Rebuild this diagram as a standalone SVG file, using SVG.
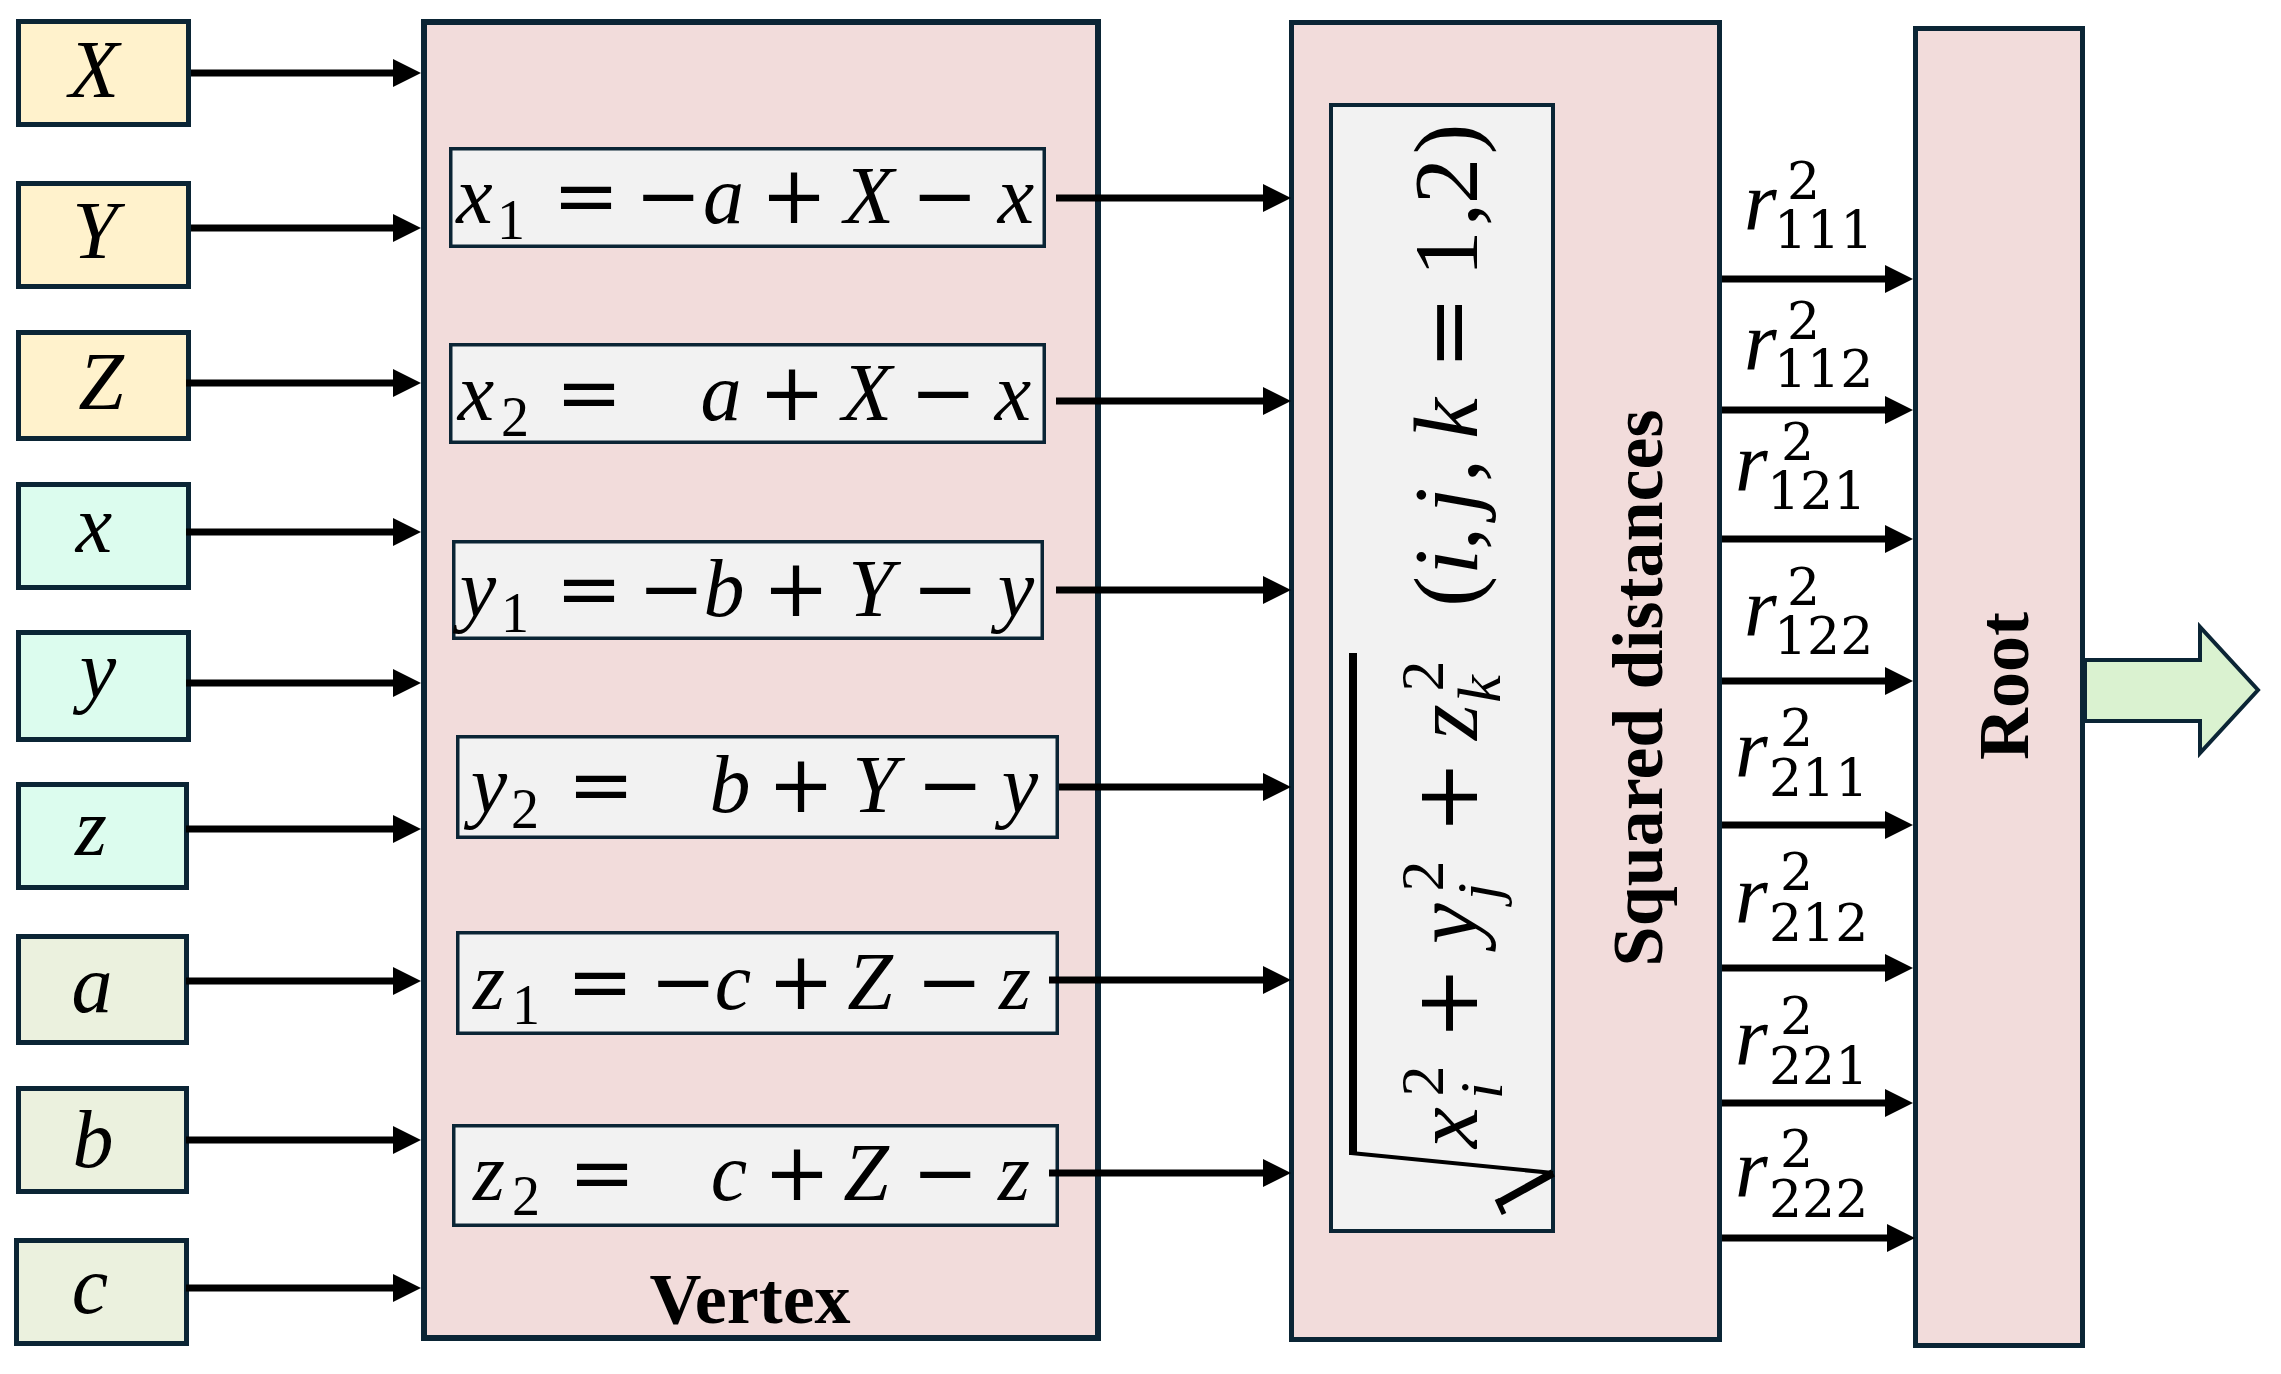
<svg xmlns="http://www.w3.org/2000/svg" width="2281" height="1374" viewBox="0 0 2281 1374">
<defs>
<marker id="ah" markerUnits="userSpaceOnUse" markerWidth="28" markerHeight="28" viewBox="0 0 28 28" refX="14" refY="14" orient="auto">
<path d="M0,0 L28,14 L0,28 z" fill="#000"/>
</marker>
</defs>
<style>
.box{stroke:#0B2535;stroke-width:5}
.yel{fill:#FFF2CC}
.mint{fill:#DCFCEE}
.olive{fill:#EBF1DE}
.pink{fill:#F2DCDB}
.eq{fill:#F2F2F2;stroke:#0B2535;stroke-width:3.5}
.con{stroke:#000;stroke-width:7;fill:none;marker-end:url(#ah)}
text{font-family:"Liberation Serif","Times New Roman",serif;fill:#000}
.v{font-style:italic;font-size:82px;text-anchor:middle}
.o{font-family:"DejaVu Serif",serif;font-size:80px;text-anchor:middle}
.s{font-size:56px;text-anchor:middle}
.fv{font-style:italic;font-size:92px;text-anchor:middle}
.fo{font-size:92px;text-anchor:middle}
.fop{font-family:"DejaVu Serif",serif;font-size:88px;text-anchor:middle}
.fs{font-size:62px;text-anchor:middle}
.fsi{font-size:62px;font-style:italic;text-anchor:middle}
.lbl{font-weight:bold;font-size:72px;text-anchor:middle}
.r{font-style:italic;font-size:84px}
.rd{font-family:"DejaVu Serif",serif;font-size:52px}
</style>

<g id="in-X"><rect class="box yel" x="18.5" y="21.5" width="170" height="103"/><text class="v" x="94" y="97">X</text></g>
<g id="in-Y"><rect class="box yel" x="18.5" y="183.5" width="170" height="103"/><text class="v" x="95" y="258">Y</text></g>
<g id="in-Z"><rect class="box yel" x="18.5" y="332.5" width="170" height="106"/><text class="v" x="101" y="409">Z</text></g>
<g id="in-x"><rect class="box mint" x="18.5" y="484.5" width="170" height="103"/><text class="v" x="94" y="552">x</text></g>
<g id="in-y"><rect class="box mint" x="18.5" y="632.5" width="170" height="107"/><text class="v" x="98" y="697">y</text></g>
<g id="in-z"><rect class="box mint" x="18.5" y="784.5" width="168" height="103"/><text class="v" x="91" y="855">z</text></g>
<g id="in-a"><rect class="box olive" x="18.5" y="936.5" width="168" height="106"/><text class="v" x="92" y="1012">a</text></g>
<g id="in-b"><rect class="box olive" x="18.5" y="1088.5" width="168" height="103"/><text class="v" x="93" y="1167">b</text></g>
<g id="in-c"><rect class="box olive" x="16.5" y="1240.5" width="170" height="103"/><text class="v" x="90" y="1313">c</text></g>

<g id="vertex">
<rect class="pink" x="424" y="22" width="674" height="1316" stroke="#0B2535" stroke-width="6"/>
<g id="eq-x1"><rect class="eq" x="450.75" y="148.75" width="593.5" height="97.5"/>
<text><tspan class="v" x="474.5" y="223">x</tspan><tspan class="s" x="511" y="239">1</tspan><tspan class="o" x="586" y="223">=</tspan><tspan class="o" x="668" y="223">−</tspan><tspan class="v" x="723.5" y="223">a</tspan><tspan class="o" x="794" y="223">+</tspan><tspan class="v" x="869" y="223">X</tspan><tspan class="o" x="944.5" y="223">−</tspan><tspan class="v" x="1016" y="223">x</tspan></text></g>
<g id="eq-x2"><rect class="eq" x="450.75" y="344.75" width="593.5" height="97.5"/>
<text><tspan class="v" x="476" y="420">x</tspan><tspan class="s" x="515" y="436">2</tspan><tspan class="o" x="589" y="420">=</tspan><tspan class="v" x="721" y="420">a</tspan><tspan class="o" x="792" y="420">+</tspan><tspan class="v" x="867" y="420">X</tspan><tspan class="o" x="943" y="420">−</tspan><tspan class="v" x="1013" y="420">x</tspan></text></g>
<g id="eq-y1"><rect class="eq" x="453.75" y="541.75" width="588.5" height="96.5"/>
<text><tspan class="v" x="478" y="616">y</tspan><tspan class="s" x="515" y="632">1</tspan><tspan class="o" x="589" y="616">=</tspan><tspan class="o" x="671" y="616">−</tspan><tspan class="v" x="724" y="616">b</tspan><tspan class="o" x="796" y="616">+</tspan><tspan class="v" x="871" y="616">Y</tspan><tspan class="o" x="945" y="616">−</tspan><tspan class="v" x="1016" y="616">y</tspan></text></g>
<g id="eq-y2"><rect class="eq" x="457.75" y="736.75" width="599.5" height="100.5"/>
<text><tspan class="v" x="489" y="812">y</tspan><tspan class="s" x="525" y="828">2</tspan><tspan class="o" x="601" y="812">=</tspan><tspan class="v" x="730" y="812">b</tspan><tspan class="o" x="801" y="812">+</tspan><tspan class="v" x="875" y="812">Y</tspan><tspan class="o" x="950" y="812">−</tspan><tspan class="v" x="1020" y="812">y</tspan></text></g>
<g id="eq-z1"><rect class="eq" x="457.75" y="932.75" width="599.5" height="100.5"/>
<text><tspan class="v" x="489" y="1009">z</tspan><tspan class="s" x="526" y="1024">1</tspan><tspan class="o" x="600" y="1009">=</tspan><tspan class="o" x="683" y="1009">−</tspan><tspan class="v" x="733" y="1009">c</tspan><tspan class="o" x="801" y="1009">+</tspan><tspan class="v" x="870" y="1009">Z</tspan><tspan class="o" x="949" y="1009">−</tspan><tspan class="v" x="1015" y="1009">z</tspan></text></g>
<g id="eq-z2"><rect class="eq" x="453.75" y="1125.75" width="603.5" height="99.5"/>
<text><tspan class="v" x="489" y="1200">z</tspan><tspan class="s" x="526" y="1215">2</tspan><tspan class="o" x="602" y="1200">=</tspan><tspan class="v" x="729" y="1200">c</tspan><tspan class="o" x="797" y="1200">+</tspan><tspan class="v" x="866" y="1200">Z</tspan><tspan class="o" x="945" y="1200">−</tspan><tspan class="v" x="1014" y="1200">z</tspan></text></g>
<text class="lbl" x="750" y="1323">Vertex</text>
</g>

<g id="squared">
<rect class="box pink" x="1291.5" y="22.5" width="428" height="1317"/>
<rect x="1331" y="105" width="222" height="1126" fill="#F2F2F2" stroke="#0B2535" stroke-width="4"/>
<g transform="translate(1477,1232) rotate(-90)">
<text class="fv" x="104.5" y="0">x</text>
<text class="fsi" x="141.5" y="25">i</text>
<text class="fs" x="151" y="-34">2</text>
<text class="fop" x="229" y="0">+</text>
<text class="fv" x="308.5" y="0">y</text>
<text class="fsi" x="340.5" y="22">j</text>
<text class="fs" x="356" y="-34">2</text>
<text class="fop" x="435" y="0">+</text>
<text class="fv" x="510" y="0">z</text>
<text class="fsi" x="543" y="23">k</text>
<text class="fs" x="556" y="-34">2</text>
<text class="fo" x="640.5" y="0">(</text>
<text class="fv" x="670" y="0">i</text>
<text class="fo" x="693.5" y="0">,</text>
<text class="fv" x="731.5" y="0">j</text>
<text class="fo" x="761.5" y="0">,</text>
<text class="fv" x="813.5" y="0">k</text>
<text class="fop" x="899.5" y="0">=</text>
<text class="fo" x="978.5" y="0">1</text>
<text class="fo" x="1017.5" y="0">,</text>
<text class="fo" x="1051" y="0">2</text>
<text class="fo" x="1093" y="0">)</text>
</g>
<g fill="none" stroke="#000">
<line x1="1353" y1="653" x2="1353" y2="1155" stroke-width="8"/>
<line x1="1351" y1="1153" x2="1553" y2="1173" stroke-width="4"/>
<line x1="1553" y1="1173" x2="1499" y2="1203" stroke-width="8"/>
<line x1="1497" y1="1199" x2="1504" y2="1214" stroke-width="5"/>
</g>
<text class="lbl" transform="translate(1662,688) rotate(-90)" x="0" y="0">Squared distances</text>
</g>

<g id="root">
<rect class="box pink" x="1915.5" y="28.5" width="167" height="1317"/>
<text class="lbl" font-size="70" transform="translate(2028,686) rotate(-90)" x="0" y="0">Root</text>
</g>

<g id="output-arrow">
<polygon points="2085,660 2200,660 2200,627 2258,690 2200,753 2200,721 2085,721" fill="#DAF2D0" stroke="#0B2535" stroke-width="4"/>
</g>

<g id="connectors">
<line class="con" x1="191" y1="73" x2="407" y2="73"/>
<line class="con" x1="191" y1="228" x2="407" y2="228"/>
<line class="con" x1="186" y1="383" x2="407" y2="383"/>
<line class="con" x1="186" y1="532" x2="407" y2="532"/>
<line class="con" x1="186" y1="683" x2="407" y2="683"/>
<line class="con" x1="186" y1="829" x2="407" y2="829"/>
<line class="con" x1="186" y1="981" x2="407" y2="981"/>
<line class="con" x1="186" y1="1140" x2="407" y2="1140"/>
<line class="con" x1="186" y1="1288" x2="407" y2="1288"/>

<line class="con" x1="1056" y1="198" x2="1277" y2="198"/>
<line class="con" x1="1056" y1="401" x2="1277" y2="401"/>
<line class="con" x1="1056" y1="590" x2="1277" y2="590"/>
<line class="con" x1="1059" y1="787" x2="1277" y2="787"/>
<line class="con" x1="1049" y1="980" x2="1277" y2="980"/>
<line class="con" x1="1049" y1="1173" x2="1277" y2="1173"/>

<line class="con" x1="1722" y1="279" x2="1899" y2="279"/>
<line class="con" x1="1722" y1="410" x2="1899" y2="410"/>
<line class="con" x1="1722" y1="539" x2="1899" y2="539"/>
<line class="con" x1="1722" y1="681" x2="1899" y2="681"/>
<line class="con" x1="1722" y1="825" x2="1899" y2="825"/>
<line class="con" x1="1722" y1="968" x2="1899" y2="968"/>
<line class="con" x1="1722" y1="1103" x2="1899" y2="1103"/>
<line class="con" x1="1722" y1="1238" x2="1901" y2="1238"/>
</g>

<g id="r-labels">
<text><tspan class="r" x="1744" y="230">r</tspan><tspan class="rd" x="1787" y="199">2</tspan><tspan class="rd" x="1774" y="248">111</tspan></text>
<text><tspan class="r" x="1744" y="370">r</tspan><tspan class="rd" x="1787" y="339">2</tspan><tspan class="rd" x="1774" y="387">112</tspan></text>
<text><tspan class="r" x="1735" y="491">r</tspan><tspan class="rd" x="1781" y="460">2</tspan><tspan class="rd" x="1767" y="509">121</tspan></text>
<text><tspan class="r" x="1744" y="636">r</tspan><tspan class="rd" x="1787" y="605">2</tspan><tspan class="rd" x="1774" y="654">122</tspan></text>
<text><tspan class="r" x="1735" y="777">r</tspan><tspan class="rd" x="1780" y="746">2</tspan><tspan class="rd" x="1769" y="796">211</tspan></text>
<text><tspan class="r" x="1735" y="923">r</tspan><tspan class="rd" x="1780" y="890">2</tspan><tspan class="rd" x="1769" y="941">212</tspan></text>
<text><tspan class="r" x="1735" y="1065">r</tspan><tspan class="rd" x="1780" y="1034">2</tspan><tspan class="rd" x="1769" y="1084">221</tspan></text>
<text><tspan class="r" x="1735" y="1197">r</tspan><tspan class="rd" x="1780" y="1167">2</tspan><tspan class="rd" x="1769" y="1217">222</tspan></text>
</g>
</svg>
